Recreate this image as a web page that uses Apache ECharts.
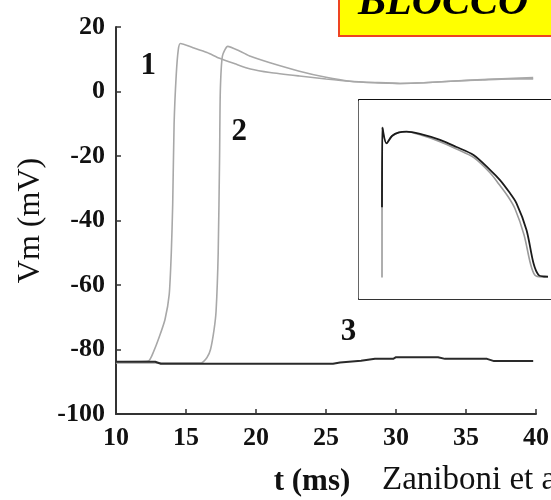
<!DOCTYPE html>
<html>
<head>
<meta charset="utf-8">
<script src="https://cdn.jsdelivr.net/npm/echarts@6/dist/echarts.min.js"></script>
<style>
  html, body { margin: 0; padding: 0; background: #fff; }
  #chart { width: 551px; height: 500px; }
</style>
</head>
<body>
<div id="chart"></div>
<script>
// Membrane potential traces (t in ms, Vm in mV)
const time1 = [10, 12.3, 12.7, 13.1, 13.5, 13.8, 13.95, 14.05, 14.15, 14.3, 14.45, 14.6, 15.5, 16.5, 17.4, 18.5, 19.6, 21, 23.1, 25, 26.7, 28.5, 30.3, 32, 33.9, 36.2, 38, 39.8];
const vm1 = [-83.8, -83.6, -80.5, -76, -70.7, -63, -50, -35, -10, 5, 13, 14.9, 13.6, 12.1, 10.3, 8.6, 7.0, 5.9, 4.8, 3.9, 3.2, 2.8, 2.5, 2.7, 3.2, 3.7, 4.0, 4.3];

const time2 = [10, 16.1, 16.5, 16.75, 17.0, 17.15, 17.3, 17.4, 17.45, 17.6, 17.98, 18.86, 19.6, 21, 23.1, 25, 26.7, 28.5, 30.3, 32, 33.9, 36.2, 38, 39.8];
const vm2 = [-84.2, -84.1, -82.5, -80, -74, -68, -50, -20, 0, 11, 14.0, 12.5, 10.9, 8.9, 6.3, 4.4, 3.2, 2.7, 2.5, 2.7, 3.2, 3.6, 3.9, 3.9];

const time3 = [10, 12.8, 13.2, 25.5, 26, 27.5, 28.5, 29.8, 30, 33, 33.5, 36.5, 37, 39.8];
const vm3 = [-83.8, -83.8, -84.4, -84.4, -84, -83.5, -82.9, -82.9, -82.4, -82.4, -82.9, -82.9, -83.6, -83.6];

// Trace numbers and where they sit (data coordinates)
const traceNames = ['1', '2', '3'];
const traceLabelT = [12.3, 18.8, 26.6];
const traceLabelV = [7.8, -12.7, -74.7];

// Axis ticks
const xTicks = [10, 15, 20, 25, 30, 35, 40];
const yTicks = [-100, -80, -60, -40, -20, 0, 20];

// Inset: full action potentials (t in ms, Vm in mV)
const apTimeDark = [46, 47, 55, 66, 80, 95, 122, 162, 195, 229, 262, 282, 300, 315, 335, 349, 359, 370, 378];
const apVmDark = [-40, 12, 1.7, 6.5, 8.8, 9.3, 7.8, 3.9, -0.7, -5.9, -15.6, -22.3, -30, -37.5, -54.9, -76.7, -84.3, -85.3, -85.4];
const apTimeGray = [46, 46.5, 55, 66, 80, 95, 122, 162, 195, 229, 262, 280, 298, 312, 330, 343, 352, 365, 378];
const apVmGray = [-86, 12, 1.7, 6.5, 8.8, 9.3, 7.3, 2.8, -2, -7.5, -17.5, -25, -33, -41, -58, -77, -84.5, -85.6, -85.6];

const pairs = (xs, ys) => xs.map((x, i) => [x, ys[i]]);

const serif = 'Liberation Serif';
const axisColor = '#333';
const traceGray = '#a8a8a8';
const frameLine = { show: true, onZero: false, lineStyle: { color: '#333', width: 2 } };

const chart = echarts.init(document.getElementById('chart'), null, { renderer: 'canvas' });

const markFor = (i) => ({
  symbol: 'circle',
  symbolSize: 1,
  silent: true,
  itemStyle: { color: 'rgba(0,0,0,0)' },
  label: {
    show: true,
    position: 'inside',
    formatter: traceNames[i],
    color: '#111',
    fontFamily: serif,
    fontWeight: 'bold',
    fontSize: 31
  },
  data: [{ coord: [traceLabelT[i], traceLabelV[i]] }]
});

chart.setOption({
  animation: false,
  backgroundColor: '#fff',
  grid: [
    { left: 116, top: 27, right: 15, bottom: 86, outerBoundsMode: 'none', containLabel: false },
    { left: 359, top: 100, right: 0, bottom: 201, outerBoundsMode: 'none', containLabel: false,
      show: true, borderWidth: 0, backgroundColor: '#fff', z: 3 }
  ],
  xAxis: [
    {
      type: 'value', gridIndex: 0, min: 10, max: 40, interval: 5,
      name: 't (ms)', nameLocation: 'middle', nameGap: 52,
      nameTextStyle: { fontFamily: serif, fontWeight: 'bold', fontSize: 31, color: '#111', padding: [0, 28, 0, 0] },
      axisLine: { show: true, onZero: false, lineStyle: { color: axisColor, width: 2 } },
      axisTick: { show: true, inside: true, length: 5, lineStyle: { color: axisColor, width: 1.5 } },
      axisLabel: { fontFamily: serif, fontWeight: 'bold', fontSize: 26, color: '#111', margin: 11,
        customValues: xTicks },
      splitLine: { show: false }
    },
    { type: 'value', gridIndex: 1, min: 0, max: 384, position: 'bottom',
      axisLine: frameLine, axisTick: { show: false }, axisLabel: { show: false }, splitLine: { show: false } },
    { type: 'value', gridIndex: 1, min: 0, max: 384, position: 'top',
      axisLine: { show: true, onZero: false, lineStyle: { color: '#111', width: 2 } },
      axisTick: { show: false }, axisLabel: { show: false }, splitLine: { show: false } }
  ],
  yAxis: [
    {
      type: 'value', gridIndex: 0, min: -100, max: 20, interval: 20,
      name: 'Vm (mV)', nameLocation: 'middle', nameGap: 66,
      nameTextStyle: { fontFamily: serif, fontSize: 32, color: '#111' },
      axisLine: { show: true, onZero: false, lineStyle: { color: axisColor, width: 2 } },
      axisTick: { show: true, inside: true, length: 5, lineStyle: { color: axisColor, width: 1.5 } },
      axisLabel: { fontFamily: serif, fontWeight: 'bold', fontSize: 26, color: '#111', margin: 11,
        customValues: yTicks },
      splitLine: { show: false }
    },
    { type: 'value', gridIndex: 1, min: -100, max: 30, position: 'left',
      axisLine: { show: true, onZero: false, lineStyle: { color: '#666', width: 2 } },
      axisTick: { show: false }, axisLabel: { show: false }, splitLine: { show: false } }
  ],
  series: [
    {
      name: 'trace 1', type: 'line', xAxisIndex: 0, yAxisIndex: 0,
      data: pairs(time1, vm1), showSymbol: false, smooth: 0.2,
      lineStyle: { color: traceGray, width: 1.6 }, z: 2,
      markPoint: markFor(0)
    },
    {
      name: 'trace 2', type: 'line', xAxisIndex: 0, yAxisIndex: 0,
      data: pairs(time2, vm2), showSymbol: false, smooth: 0.2,
      lineStyle: { color: traceGray, width: 1.6 }, z: 2,
      markPoint: markFor(1)
    },
    {
      name: 'trace 3', type: 'line', xAxisIndex: 0, yAxisIndex: 0,
      data: pairs(time3, vm3), showSymbol: false,
      lineStyle: { color: '#2a2a2a', width: 2 }, z: 3,
      markPoint: markFor(2)
    },
    {
      name: 'AP gray', type: 'line', xAxisIndex: 1, yAxisIndex: 1,
      data: pairs(apTimeGray, apVmGray), showSymbol: false, smooth: 0.3,
      lineStyle: { color: '#9a9a9a', width: 1.6 }, z: 4
    },
    {
      name: 'AP dark', type: 'line', xAxisIndex: 1, yAxisIndex: 1,
      data: pairs(apTimeDark, apVmDark), showSymbol: false, smooth: 0.3,
      lineStyle: { color: '#1a1a1a', width: 1.8 }, z: 5
    }
  ],
  graphic: [
    {
      type: 'group', x: 339, y: -10, z: 10,
      children: [
        { type: 'rect', shape: { x: 0, y: 0, width: 240, height: 46 },
          style: { fill: '#ffff00', stroke: '#ee4422', lineWidth: 2 } },
        { type: 'text', x: 19, y: 34,
          style: { text: 'BLOCCO', fill: '#000', font: 'italic bold 42px "Liberation Serif"',
            textVerticalAlign: 'bottom' } }
      ]
    },
    {
      type: 'text', x: 382, y: 464, z: 10,
      style: { text: 'Zaniboni et al.', fill: '#111', font: '33px "Liberation Serif"' }
    }
  ]
});
</script>
</body>
</html>
